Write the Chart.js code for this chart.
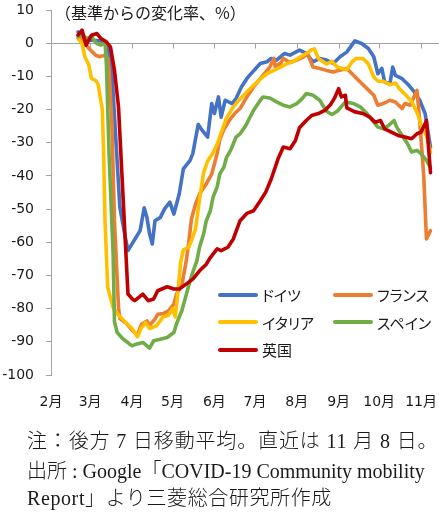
<!DOCTYPE html>
<html lang="ja">
<head>
<meta charset="utf-8">
<title>移動量の変化率</title>
<script src="https://cdn.jsdelivr.net/npm/chart.js@4.4.0/dist/chart.umd.min.js"></script>
<style>
  html, body { margin: 0; padding: 0; background: #fff; }
  #wrap { position: relative; width: 439px; height: 513px; overflow: hidden; }
  #chart { position: absolute; left: 0; top: 0; }
  #unit {
    position: absolute; left: 55px; top: 2px;
    font: 16px/20px "Noto Sans CJK JP", sans-serif; color: #1a1a1a; white-space: nowrap;
  }
  #legend {
    position: absolute; left: 216px; top: 281px;
    display: grid; grid-template-columns: 115px 110px; grid-auto-rows: 27.5px;
    font: 15px "Noto Sans CJK JP", sans-serif; font-feature-settings: "palt";
    color: #1a1a1a;
  }
  #legend .item { display: flex; align-items: center; white-space: nowrap; }
  #legend .swatch { width: 40px; height: 4px; border-radius: 2px; margin: 0 4px 0 2px; }
  .note {
    position: absolute; left: 27px;
    font: 300 20px/28px "Liberation Serif", "Noto Sans CJK JP", serif; color: #1a1a1a; white-space: nowrap;
  }
</style>
</head>
<body>
<div id="wrap">
  <canvas id="chart" width="439" height="513"></canvas>
  <div id="unit">（基準からの変化率、%）</div>
  <div id="legend"></div>
  <div class="note" style="top:427px; letter-spacing:0.85px">注：後方 7 日移動平均。直近は 11 月 8 日。</div>
  <div class="note" style="top:457px">出所 : Google「COVID-19 Community mobility</div>
  <div class="note" style="top:484px; letter-spacing:0.6px">Report」より三菱総合研究所作成</div>
</div>
<script>
// Days are counted from 1 Jan 2020 (= 0); 2020 is a leap year.
const monthDays   = [31, 60, 91, 121, 152, 182, 213, 244, 274, 305];
const monthLabels = ['2月', '3月', '4月', '5月', '6月', '7月', '8月', '9月', '10月', '11月'];

const countryNames = ['ドイツ', 'フランス', 'イタリア', 'スペイン', '英国'];

// Germany
const deDays = [51,55,60,68,72,74,76,82,86,88,91,94,97,100,102,104,106,108,112,115,
  119,122,126,129,134,136,140,143,147,150,152,155,157,160,165,168,172,176,178,186,
  191,194,198,204,208,215,220,225,230,235,240,245,250,256,261,266,270,273,276,278,
  282,284,286,291,296,300,304,308,310,312];
const deValues = [3.4,1.4,0.9,0.7,-0.6,-3.1,-8.2,-49.5,-58.5,-62.5,-60.5,-58.5,-56.5,-49.6,-52.5,-57.4,-60.5,-53.5,-52.5,-50,
  -47.9,-51.5,-45.3,-37.9,-35.3,-33.3,-24.5,-26.3,-28.3,-18.2,-21.2,-16.2,-22.3,-17.2,-18.2,-16.7,-13.2,-10.7,-9.7,-6.1,
  -5.6,-4.6,-5.1,-3.1,-3.6,-2.1,-3.1,-5.6,-4.6,-5.1,-6.1,-4.1,-2.7,0.7,-0.1,-1.6,-4.1,-9.2,-7.6,-11.7,
  -12.2,-7.2,-9.7,-10.7,-12.7,-14.7,-17.2,-21.2,-26.3,-31.3];

// France
const frDays = [51,56,60,64,67,71,73,74,76,78,81,82,87,91,95,98,102,104,108,110,
  114,118,122,124,128,131,133,135,138,141,146,150,154,156,159,163,167,171,176,181,
  186,190,193,196,197,201,203,208,213,218,221,225,230,235,240,244,250,255,260,265,
  270,273,277,282,286,291,293,297,302,304,307,309,312];
const frValues = [2.5,-0.1,-2,-3.6,-4.1,-3.6,-4.6,-8.2,-23.3,-53.5,-79.7,-83,-84.5,-86.5,-88,-84.7,-83.7,-85,-83.2,-81.7,
  -81.5,-80.7,-78.6,-75.6,-72.6,-66,-60,-53,-48.5,-45.4,-42.4,-39.4,-33.3,-29,-26,-23.3,-21.2,-19.7,-16.2,-13.2,
  -10.7,-8.7,-7.2,-4.6,-7,-6.1,-4.6,-5.8,-5.1,-4.1,-3.1,-7.2,-7.6,-8.2,-8.7,-8.2,-7.6,-9.7,-11.7,-13.7,
  -15.7,-18.7,-18.2,-17.2,-17.7,-19.7,-18.2,-18.7,-14.2,-23.3,-40,-59,-56.5];

// Italy
const itDays = [51,54,56,59,61,64,66,67,69,70,71,73,77,81,86,91,95,98,101,104,
  109,114,118,121,123,125,127,129,133,135,138,141,144,147,151,154,157,161,166,171,
  176,181,186,191,196,201,206,210,215,220,224,226,229,235,239,243,250,254,257,262,
  266,270,273,277,282,286,289,294,298,303,305,309,311,312];
const itValues = [1.4,-0.1,-4,-6.6,-10.7,-11.2,-12.5,-15.2,-20,-33.3,-53.5,-73.6,-79.7,-82,-84,-86,-88.5,-85.7,-84.2,-86,
  -85.2,-82.5,-82,-80,-82.5,-75,-66,-62.3,-61.5,-59.5,-56,-47,-39,-35.5,-33,-30.5,-27,-22.5,-19.2,-16.8,
  -14.7,-12.7,-10.8,-9.2,-8.2,-7.2,-6.1,-5.6,-4.3,-3.1,-2,-1.7,-4.6,-6.3,-5.5,-7.2,-8,-5.6,-4.6,-4.6,
  -6.3,-10.2,-11.4,-11.5,-12.5,-12,-13.7,-15.8,-17.5,-21.8,-24.8,-27.8,-31,-33];

// Spain
const esDays = [51,54,57,61,65,68,71,72,74,77,78,80,84,91,94,99,104,107,112,117,
  122,124,128,131,134,136,139,141,144,146,149,151,154,156,159,161,164,166,168,171,
  175,181,186,188,193,198,203,208,213,217,220,225,230,235,239,243,249,255,260,265,
  270,273,277,281,285,287,291,295,298,302,305,309,312];
const esValues = [1.9,2.9,1.4,1.9,-0.1,-0.6,0.4,-6.1,-33.3,-63.5,-84,-87.2,-89,-91.2,-90.7,-90.2,-91.9,-89.7,-89.2,-88.7,
  -87.2,-84.5,-80.5,-76,-71.6,-69,-65.6,-61.5,-57.5,-53.5,-50.5,-46.4,-43.4,-39.4,-37.4,-34.4,-32.3,-30.3,-28.3,-27.3,
  -25,-20.2,-17.2,-16.2,-16.5,-17.7,-18.7,-19.2,-18.2,-16.7,-15.2,-15.7,-17.2,-20.5,-21.5,-20.5,-17.7,-18.2,-19.2,-21.2,
  -23.8,-25.3,-25.8,-24.8,-23.3,-25.3,-27.8,-30.3,-32.8,-32.3,-33.3,-35.3,-37.5];

// United Kingdom
const ukDays = [51,54,57,61,65,68,72,75,78,81,84,88,91,93,99,103,107,110,117,122,
  126,131,136,141,146,149,154,157,162,166,171,176,181,186,190,194,199,203,208,212,
  215,220,224,229,234,238,241,244,246,249,250,256,262,267,271,275,278,283,288,293,
  298,302,305,308,309,312];
const ukValues = [2.4,3.9,-0.6,2.4,2.9,1.4,0.4,-1.1,-8.2,-19.2,-43.4,-75.6,-77,-77.6,-75.6,-77.6,-77.1,-74.6,-73.4,-74.1,
  -74.1,-72.6,-71.1,-68.6,-66.6,-64.6,-62,-62.5,-61.5,-59,-53.5,-51.3,-50.5,-47.5,-44.9,-41,-35,-31.3,-31.8,-29.3,
  -25.5,-23.3,-21.8,-21.2,-20.2,-18.5,-16.5,-13.7,-16.2,-15.7,-19.5,-20.7,-21.2,-22.3,-23.8,-23.3,-25.8,-26.8,-27.8,-28.3,
  -28.8,-27.3,-26.8,-24.3,-23.3,-39];

const seriesDays   = [deDays, frDays, itDays, esDays, ukDays];
const seriesValues = [deValues, frValues, itValues, esValues, ukValues];

// styling
const lineColors = ['#4472C4', '#ED7D31', '#FFC000', '#70AD47', '#C00000'];
const drawOrder  = [4, 3, 2, 1, 0];   // lower = drawn on top (UK uppermost)
const axisGray = '#a3a3a3';
const textColor = '#1a1a1a';

const datasets = countryNames.map((name, i) => ({
  label: name,
  data: seriesDays[i].map((d, j) => ({ x: d, y: seriesValues[i][j] })),
  borderColor: lineColors[i],
  backgroundColor: lineColors[i],
  borderWidth: 3.6,
  pointRadius: 0,
  tension: 0,
  borderJoinStyle: 'round',
  borderCapStyle: 'round',
  order: drawOrder[i],
  clip: false
}));

// short month tick marks hanging below the 0 % line
const zeroLineTicks = {
  id: 'zeroLineTicks',
  beforeDatasetsDraw(chart) {
    const { ctx, scales: { x, y } } = chart;
    const y0 = Math.round(y.getPixelForValue(0)) + 0.5;
    ctx.save();
    ctx.strokeStyle = axisGray;
    ctx.lineWidth = 1;
    ctx.beginPath();
    monthDays.forEach(d => {
      const px = Math.round(x.getPixelForValue(d)) + 0.5;
      ctx.moveTo(px, y0);
      ctx.lineTo(px, y0 + 5);
    });
    ctx.stroke();
    ctx.restore();
  }
};

new Chart(document.getElementById('chart'), {
  type: 'line',
  data: { datasets },
  plugins: [zeroLineTicks],
  options: {
    responsive: false,
    animation: false,
    devicePixelRatio: 1,
    layout: { padding: { top: 10, right: 0, bottom: 98, left: 0 } },
    plugins: { legend: { display: false }, tooltip: { enabled: false } },
    scales: {
      x: {
        type: 'linear',
        min: 31,
        max: 318.3,
        afterBuildTicks(scale) { scale.ticks = monthDays.map(v => ({ value: v })); },
        afterFit(scale) { scale.height = 40; scale.paddingLeft = 0; scale.paddingRight = 0; },
        ticks: {
          autoSkip: false, maxRotation: 0, minRotation: 0, padding: 19,
          color: textColor,
          font: { family: '"DejaVu Sans", "Noto Sans CJK JP"', size: 14 },
          callback: (v, i) => monthLabels[i]
        },
        grid: { display: false, drawTicks: false },
        border: { display: false }
      },
      y: {
        min: -100,
        max: 10,
        afterFit(scale) { scale.width = 51; scale.paddingTop = 0; scale.paddingBottom = 0; },
        ticks: {
          stepSize: 10, padding: 12, color: textColor,
          font: { family: '"DejaVu Sans"', size: 14 }
        },
        grid: {
          color: c => (c.tick && c.tick.value === 0 ? axisGray : 'rgba(0,0,0,0)'),
          tickColor: axisGray,
          tickLength: 5,
          lineWidth: 1
        },
        border: { color: axisGray, width: 1 }
      }
    }
  }
});

// legend laid out in two columns, same order as the series
const legend = document.getElementById('legend');
countryNames.forEach((name, i) => {
  const item = document.createElement('div');
  item.className = 'item';
  const sw = document.createElement('span');
  sw.className = 'swatch';
  sw.style.background = lineColors[i];
  const label = document.createElement('span');
  label.textContent = name;
  item.appendChild(sw);
  item.appendChild(label);
  legend.appendChild(item);
});
</script>
</body>
</html>
